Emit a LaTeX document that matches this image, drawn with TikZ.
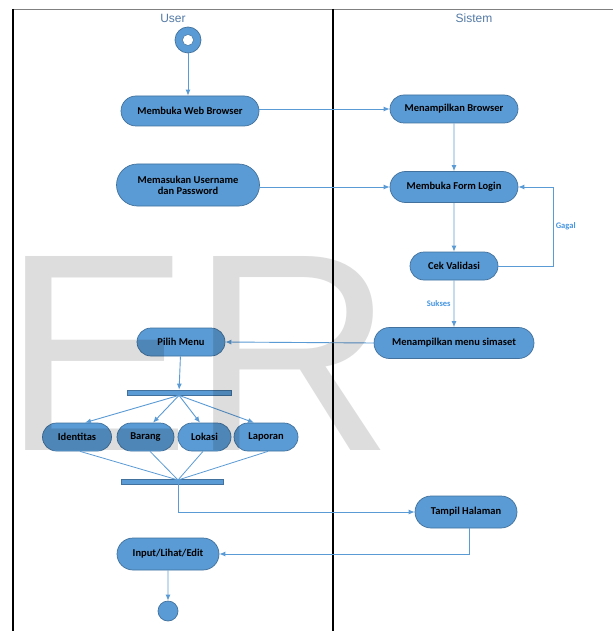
\documentclass[tikz,border=0pt]{standalone}
\usepackage{fontspec}
\setmainfont{Liberation Sans}
\newfontfamily\actfont{Carlito}
\newfontfamily\markfont{Liberation Sans}
\usetikzlibrary{arrows.meta,shapes.misc}

\definecolor{actfill}{RGB}{91,155,213}
\definecolor{actline}{RGB}{65,113,156}
\definecolor{flowc}{RGB}{91,155,213}
\definecolor{lanetext}{RGB}{84,122,166}
\definecolor{guardc}{RGB}{70,150,225}

\tikzset{
  act/.style={rounded rectangle, fill=actfill, draw=actline, line width=0.7pt,
    inner sep=0pt, align=center, text=black,
    font=\actfont\bfseries\fontsize{10.5}{11}\selectfont},
  bar/.style={rectangle, fill=actfill, draw=actline, line width=0.7pt, inner sep=0pt},
  flow/.style={draw=flowc, line width=0.9pt, -{Latex[length=6pt,width=5pt]}},
  link/.style={draw=flowc, line width=0.8pt},
  guard/.style={text=guardc, font=\actfont\bfseries\fontsize{8.5}{9}\selectfont, inner sep=2pt},
  lane/.style={text=lanetext, font=\fontsize{12}{12}\selectfont},
  border/.style={draw=black, line width=1.6pt}
}

\begin{document}
\begin{tikzpicture}[x=1pt,y=-1pt]
\useasboundingbox (0,0) rectangle (613,631);
\fill[white] (0,0) rectangle (613,631);

% swimlane frame
\draw[draw=black!50, line width=1.5pt] (12.5,9.5) -- (613,9.5);
\draw[border] (13,9) -- (13,631);
\draw[border] (333,9) -- (333,631);
\node[lane] (laneuser) at (173,18) {User};
\node[lane] (lanesys) at (474,18) {Sistem};

% initial node
\node[circle, fill=actfill, draw=actline, line width=0.7pt, minimum size=26pt, inner sep=0pt] (start) at (188,40) {};
\node[circle, fill=white, draw=actline, line width=0.5pt, minimum size=11pt, inner sep=0pt] (starthole) at (start) {};

% activities
\node[act, minimum width=138pt, minimum height=30pt] (web) at (190,111) {Membuka Web Browser};
\node[act, minimum width=128pt, minimum height=28pt] (browser) at (454,109) {Menampilkan Browser};
\node[act, minimum width=143pt, minimum height=42pt] (userpass) at (188,185) {Memasukan Username\\dan Password};
\node[act, minimum width=128pt, minimum height=31pt] (login) at (454,187) {Membuka Form Login};
\node[act, minimum width=88pt, minimum height=28pt] (cek) at (454,266) {Cek Validasi};
\node[act, minimum width=160pt, minimum height=31pt] (menu) at (454,343) {Menampilkan menu simaset};
\node[act, minimum width=88pt, minimum height=28pt] (pilih) at (181,342) {Pilih Menu};

\node[bar, minimum width=104pt, minimum height=5pt] (fork) at (179,392.5) {};

\node[act, minimum width=69pt, minimum height=28pt] (ident) at (77,437) {Identitas};
\node[act, minimum width=57pt, minimum height=28pt] (barang) at (145.5,437) {Barang};
\node[act, minimum width=53pt, minimum height=28pt] (lokasi) at (204.5,437) {Lokasi};
\node[act, minimum width=64pt, minimum height=28pt] (laporan) at (266,437) {Laporan};

\node[bar, minimum width=102pt, minimum height=4.5pt] (join) at (172,482) {};
\coordinate (joinpt) at (178,480);

\node[act, minimum width=102pt, minimum height=32pt] (tampil) at (466,512) {Tampil Halaman};
\node[act, minimum width=102pt, minimum height=32pt] (input) at (168,554) {Input/Lihat/Edit};

% final node
\node[circle, fill=actfill, draw=actline, line width=0.7pt, minimum size=20pt, inner sep=0pt] (end) at (168,611) {};

% control flow
\draw[flow] (start) -- (start |- web.north);
\draw[flow] (web.east |- browser) -- (browser.west);
\draw[flow] (browser) -- (login);
\draw[flow] (userpass.east |- login.west) -- (login.west);
\draw[flow] (login) -- (cek);
\draw[flow] (cek.east) -- ++(55,0) |- node[guard, pos=0.25, right] {Gagal} (login.east);
\draw[flow] (cek) -- node[guard, midway, left, xshift=-1pt] {Sukses} (menu);
\draw[flow] (menu.west) -- (pilih.east);
\draw[flow] (pilih) -- (fork);

\draw[flow] (fork.south) -- ([xshift=8pt]ident.north);
\draw[flow] (fork.south) -- ([xshift=7.5pt]barang.north);
\draw[flow] (fork.south) -- ([xshift=-4.5pt]lokasi.north);
\draw[flow] (fork.south) -- ([xshift=-12pt]laporan.north);

\draw[link] ([xshift=3pt]ident.south) -- (joinpt);
\draw[link] ([xshift=4.5pt]barang.south) -- (joinpt);
\draw[link] ([xshift=-1.5pt]lokasi.south) -- (joinpt);
\draw[link] ([xshift=2pt]laporan.south) -- (joinpt);

\draw[flow] (joinpt) |- (tampil.west);
\draw[flow] ([xshift=3pt]tampil.south) |- (input.east);
\draw[flow] (input) -- (end);

% watermark letters laid over the sheet
\node[anchor=base west, inner sep=0pt, text=black, text opacity=0.135,
  font=\markfont\fontsize{282}{282}\selectfont] (mark) at (2,450) {ER};
\end{tikzpicture}
\end{document}
